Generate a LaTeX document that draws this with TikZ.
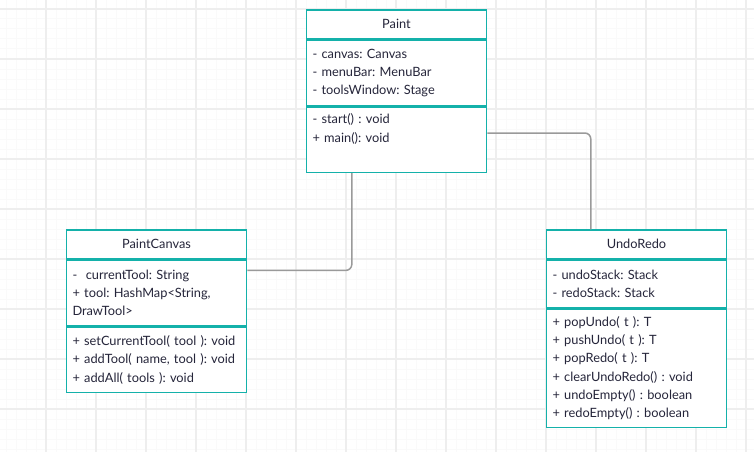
\documentclass[tikz,border=0pt]{standalone}
\usepackage{fontspec}
\setmainfont{Lato}
\frenchspacing
\usetikzlibrary{positioning}
\definecolor{umlteal}{HTML}{14B1AA}
\definecolor{umltext}{HTML}{25253A}
\definecolor{umlline}{HTML}{9A9A9A}
\definecolor{gridmajor}{HTML}{EEEEEE}
\definecolor{gridminor}{HTML}{FAFAFA}
\tikzstyle{classname} = [rectangle, draw=umlteal, fill=white, line width=1.6pt,
    minimum width=180pt, minimum height=28.4pt, inner sep=0pt, text=umltext,
    font=\fontsize{12.8}{18.3}\selectfont]
\tikzstyle{compart} = [rectangle, draw=umlteal, fill=white, line width=1.6pt,
    text width=168pt, inner xsep=6pt, inner ysep=0pt, align=left, text=umltext,
    font=\fontsize{12.8}{18.3}\selectfont]
\tikzstyle{assoc} = [draw=umlline, line width=1.5pt, rounded corners=6pt]

\begin{document}
\begin{tikzpicture}[x=1pt, y=-1pt]
    \useasboundingbox (0,0) rectangle (754,452);
    \fill[white] (0,0) rectangle (754,452);
    % background grid
    \foreach \gx in {6,16,...,750} \draw[gridminor, line width=1pt] (\gx,0) -- (\gx,452);
    \foreach \gy in {9,19,...,450} \draw[gridminor, line width=1pt] (0,\gy) -- (754,\gy);
    \foreach \gx in {46,96,...,750} \draw[gridmajor, line width=1.6pt] (\gx,0) -- (\gx,452);
    \foreach \gy in {9,59,...,450} \draw[gridmajor, line width=1.6pt] (0,\gy) -- (754,\gy);

    % classes
    \node [classname, anchor=north west] (paint) at (305.7,9.3) {Paint};
    \node [compart, below=0pt of paint, minimum height=65.6pt] (paintattrs)
        {- canvas: Canvas\\- menuBar: MenuBar\\- toolsWindow: Stage};
    \node [compart, below=0pt of paintattrs, minimum height=65pt] (paintops)
        {- start() : void\\+ main(): void\\\strut};

    \node [classname, anchor=north west] (canvas) at (65.7,229.3) {PaintCanvas};
    \node [compart, below=0pt of canvas, minimum height=65.6pt] (canvasattrs)
        {-\ \ currentTool: String\\+ tool: HashMap<String,\\DrawTool>};
    \node [compart, below=0pt of canvasattrs, minimum height=65pt] (canvasops)
        {+ setCurrentTool( tool ): void\\+ addTool( name, tool ): void\\+ addAll( tools ): void};

    \node [classname, anchor=north west] (undo) at (545.7,229.3) {UndoRedo};
    \node [compart, below=0pt of undo, minimum height=47.3pt] (undoattrs)
        {- undoStack: Stack\\- redoStack: Stack};
    \node [compart, below=0pt of undoattrs, minimum height=118.3pt] (undoops)
        {+ popUndo( t ): T\\+ pushUndo( t ): T\\+ popRedo( t ): T\\+ clearUndoRedo() : void\\+ undoEmpty() : boolean\\+ redoEmpty() : boolean};

    % associations
    \path [assoc] ([xshift=-44.7pt]paintops.south) |- ([yshift=22.5pt]canvasattrs.east);
    \path [assoc] ([yshift=6.8pt]paintops.east) -| ([xshift=-45.7pt]undo.north);
\end{tikzpicture}
\end{document}
